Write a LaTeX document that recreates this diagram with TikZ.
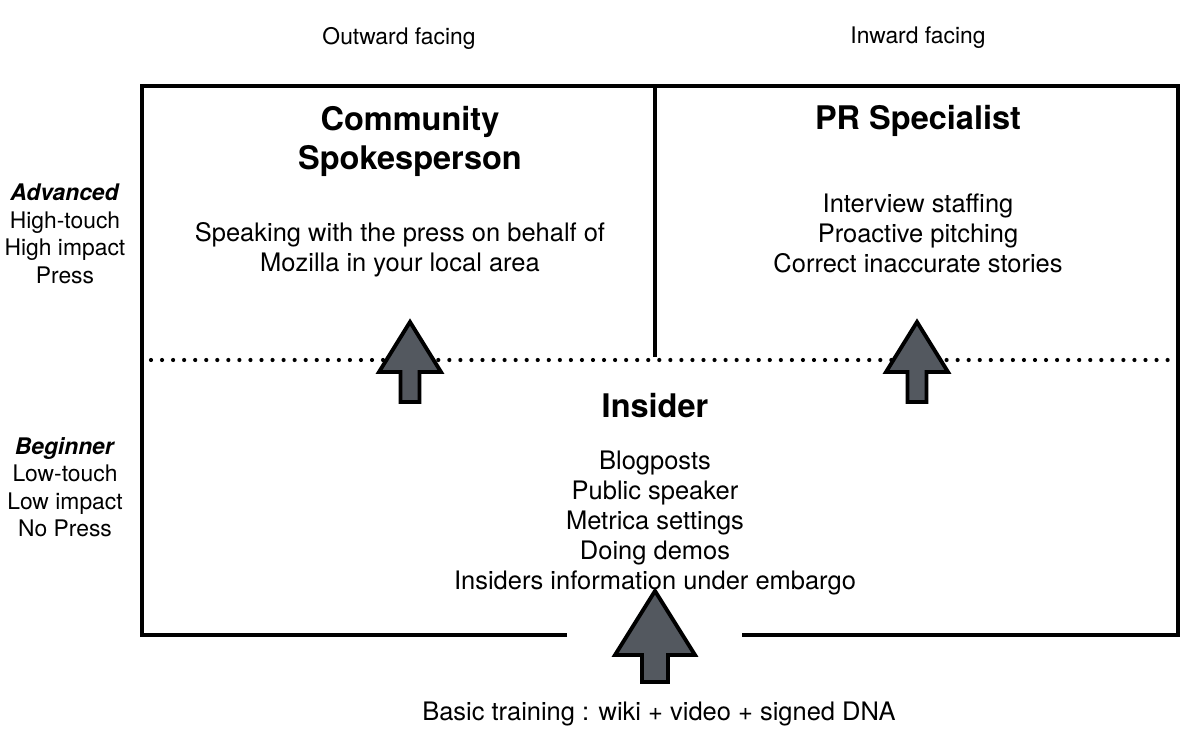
\documentclass[tikz,border=0pt]{standalone}
\usepackage{fontspec}
\setmainfont{TeX Gyre Heros}
\usetikzlibrary{positioning, calc}

\definecolor{arrowgray}{HTML}{53585F}

% block arrow pointing up: tip, head half width, head height, stem half width, total height
\newcommand{\liftarrow}[5]{%
  \draw[arrowbody] (#1)
    -- ++(-#2,#3) -- ++(#2-#4,0) -- ++(0,#5-#3)
    -- ++(2*#4,0) -- ++(0,-#5+#3) -- ++(#2-#4,0) -- cycle;}

\begin{document}
\begin{tikzpicture}[x=0.02cm, y=-0.02cm, line cap=butt, line join=miter,
    frame/.style={line width=3pt*0.7},
    dots/.style={line width=3.4pt*0.7, line cap=round, dash pattern=on 0pt off 11.05*0.02cm},
    arrowbody/.style={fill=arrowgray, draw=black, line width=2.2pt, line join=miter},
    txt/.style={font=\fontsize{13}{17.07}\selectfont, align=center, inner sep=0pt},
    body/.style={font=\fontsize{14.5}{17.07}\selectfont, align=center, inner sep=0pt},
    side/.style={font=\fontsize{13}{15.65}\selectfont, align=center, inner sep=0pt},
    head/.style={font=\fontsize{18.5}{22.2}\selectfont\bfseries, align=center, inner sep=0pt}]
  \useasboundingbox (0,0) rectangle (1204,756);
  % --- frame corners ---------------------------------------------
  \coordinate (tl) at (142,86);
  \coordinate (tr) at (1178,86);
  \coordinate (bl) at (142,635);
  \coordinate (br) at (1178,635);
  \coordinate (gapl) at (567,635);
  \coordinate (gapr) at (742,635);
  \coordinate (divtop) at (655,86);
  \coordinate (divbot) at (655,357);
  \draw[frame] (gapl) -- (bl) -- (tl) -- (tr) -- (br) -- (gapr);
  \draw[frame] (divtop) -- (divbot);
  % dotted level line
  \coordinate (dotl) at (151,360);
  \coordinate (dotr) at (1170,360);
  \draw[dots] (dotl) -- (dotr);
  % --- column headings -------------------------------------------
  \node[txt] (outward) at (399,38) {Outward facing};
  \node[txt] (inward) at (918,38) {Inward facing};
  % --- level labels ----------------------------------------------
  \node[side] (advanced) at (65,234) {\textbf{\textit{Advanced}}\\High-touch\\High impact\\Press};
  \node[side] (beginner) at (65,487) {\textbf{\textit{Beginner}}\\Low-touch\\Low impact\\No Press};
  % --- quadrants -------------------------------------------------
  \node[head] (spokes) at (410,141) {Community\\Spokesperson};
  \node[body] (spokestxt) at (400,250) {Speaking with the press on behalf of\\Mozilla in your local area};
  \node[head] (pr) at (918,121) {PR Specialist};
  \node[body] (prtxt) at (918,233) {Interview staffing\\Proactive pitching\\Correct inaccurate stories};
  \node[head] (insider) at (655,406) {Insider};
  \node[body] (insidertxt) at (655,523) {Blogposts\\Public speaker\\Metrica settings\\Doing demos\\Insiders information under embargo};
  \node[body] (basic) at (659,714) {Basic training : wiki + video + signed DNA};
  % --- promotion arrows ------------------------------------------
  \coordinate (tipa) at (410,322);
  \coordinate (tipb) at (917,322);
  \coordinate (tipc) at (655,591);
  \liftarrow{tipa}{31}{50}{9.5}{80}
  \liftarrow{tipb}{31}{50}{9.5}{80}
  \liftarrow{tipc}{40}{64}{13}{91}
\end{tikzpicture}
\end{document}
